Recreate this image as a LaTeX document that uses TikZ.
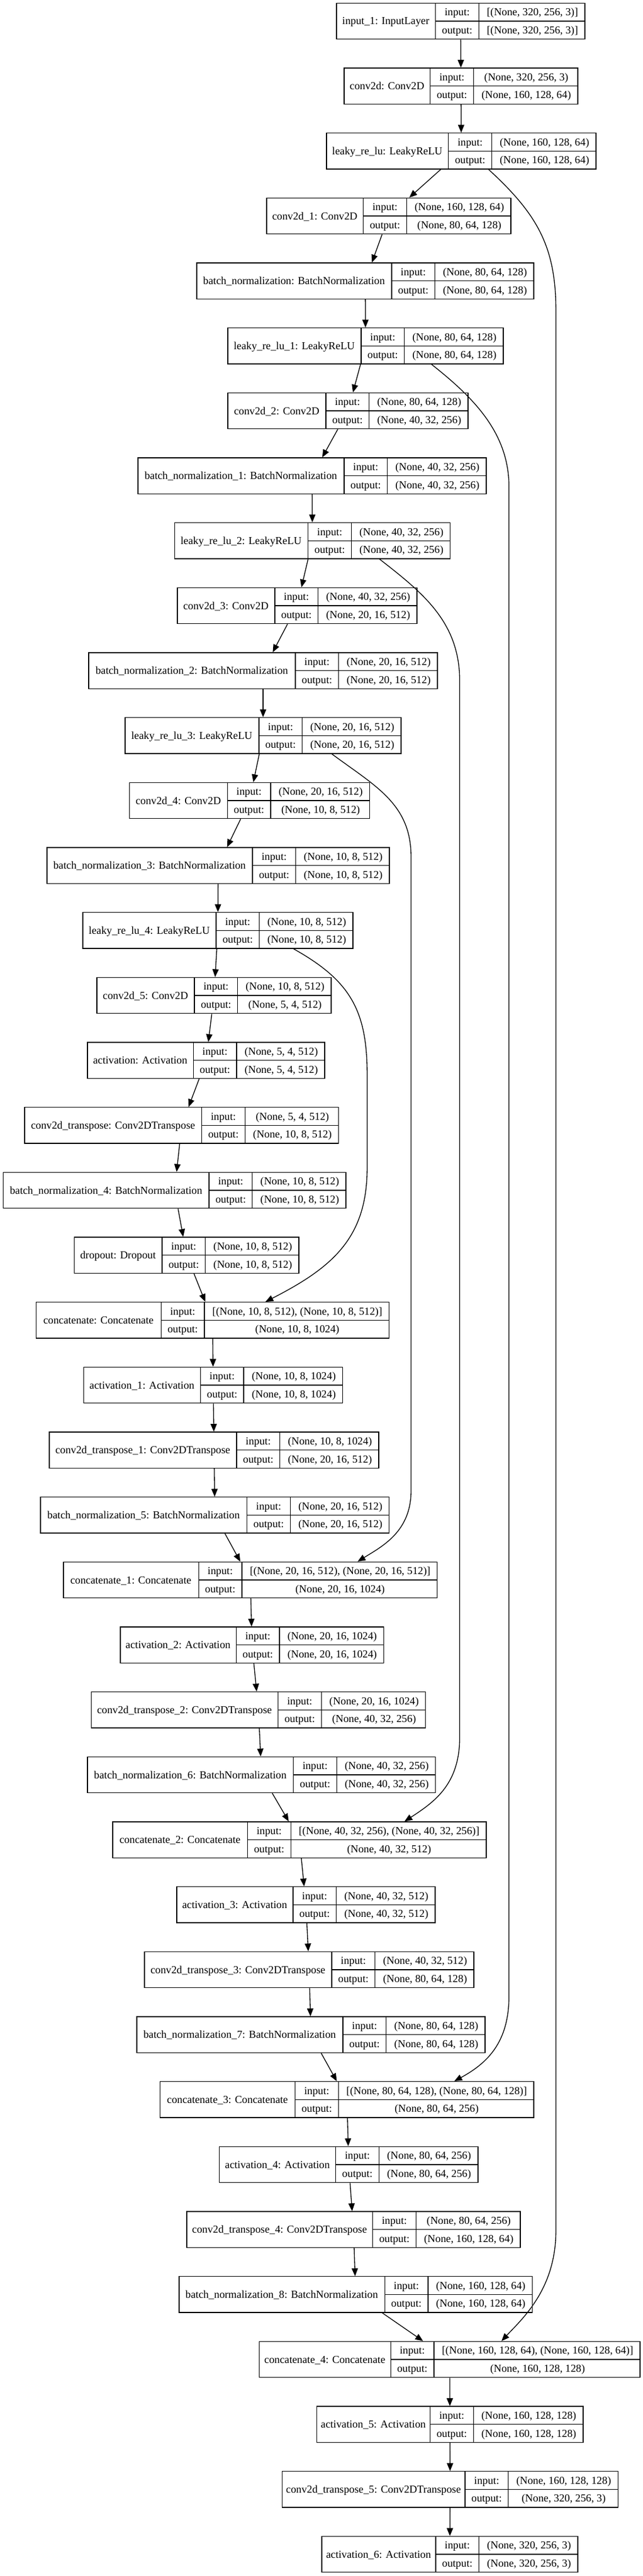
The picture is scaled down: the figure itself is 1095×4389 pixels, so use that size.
\documentclass[tikz,border=0pt]{standalone}
\usepackage{fontspec}
\setmainfont{Liberation Serif}
\usetikzlibrary{arrows.meta,calc}
\newlength\lwA \newlength\lwB \newlength\shapew \newlength\labw \newlength\totw
\newcommand\lfont{\fontsize{13.7pt}{16pt}\selectfont}
\tikzset{
 lbox/.style={draw, line width=1pt, minimum height=46pt, inner sep=0pt, fill=white},
 cellline/.style={line width=1pt},
 ltxt/.style={anchor=base, inner sep=0pt, font=\lfont},
 edge/.style={line width=1pt, -{Triangle[length=10pt,width=8pt]}},
}
% #1 name, #2 centre x (px), #3 row, #4 width (px), #5 label, #6 input, #7 output
\newcommand{\layer}[7]{%
  \pgfinterruptpicture
    \sbox0{\lfont #6}\global\lwA=\wd0
    \sbox0{\lfont #7}\global\lwB=\wd0
  \endpgfinterruptpicture
  \ifdim\lwB>\lwA \global\lwA=\lwB\fi
  \global\shapew=\dimexpr\lwA+18.5pt\relax
  \pgfmathsetlength\totw{#4*0.75pt}%
  \global\labw=\dimexpr\totw-\shapew-55.25pt\relax
  \node[lbox, minimum width=\totw] (#1) at (#2,{36+110.667*#3}) {};
  \node[ltxt] (#1-l) at ([xshift=0.5\labw, yshift=-4.5pt]#1.west) {#5};
  \draw[cellline] ([xshift=\labw]#1.north west) -- ([xshift=\labw]#1.south west);
  \draw[cellline] ([xshift=\labw+55.25pt]#1.north west) -- ([xshift=\labw+55.25pt]#1.south west);
  \draw[cellline] ([xshift=\labw]#1.west) -- (#1.east);
  \node[ltxt] (#1-i) at ([xshift=\labw+27.625pt, yshift=7pt]#1.west) {input:};
  \node[ltxt] (#1-o) at ([xshift=\labw+27.625pt, yshift=-16pt]#1.west) {output:};
  \node[ltxt] (#1-si) at ([xshift=-0.5\shapew, yshift=7pt]#1.east) {#6};
  \node[ltxt] (#1-so) at ([xshift=-0.5\shapew, yshift=-16pt]#1.east) {#7};
}
\begin{document}
\begin{tikzpicture}[x=0.75pt,y=-0.75pt]
\fill[white] (0,0) rectangle (1095,4389);
\useasboundingbox (0,0) rectangle (1095,4389);

\layer{input1}{784.5}{0}{423}{input\_1: InputLayer}{[(None, 320, 256, 3)]}{[(None, 320, 256, 3)]}
\layer{conv2d}{785}{1}{398}{conv2d: Conv2D}{(None, 320, 256, 3)}{(None, 160, 128, 64)}
\layer{lrelu}{785.5}{2}{459}{leaky\_re\_lu: LeakyReLU}{(None, 160, 128, 64)}{(None, 160, 128, 64)}
\layer{conv2d1}{662}{3}{416}{conv2d\_1: Conv2D}{(None, 160, 128, 64)}{(None, 80, 64, 128)}
\layer{bn}{622}{4}{574}{batch\_normalization: BatchNormalization}{(None, 80, 64, 128)}{(None, 80, 64, 128)}
\layer{lrelu1}{622.5}{5}{469}{leaky\_re\_lu\_1: LeakyReLU}{(None, 80, 64, 128)}{(None, 80, 64, 128)}
\layer{conv2d2}{592.5}{6}{409}{conv2d\_2: Conv2D}{(None, 80, 64, 128)}{(None, 40, 32, 256)}
\layer{bn1}{531.5}{7}{593}{batch\_normalization\_1: BatchNormalization}{(None, 40, 32, 256)}{(None, 40, 32, 256)}
\layer{lrelu2}{532}{8}{469.5}{leaky\_re\_lu\_2: LeakyReLU}{(None, 40, 32, 256)}{(None, 40, 32, 256)}
\layer{conv2d3}{506}{9}{408}{conv2d\_3: Conv2D}{(None, 40, 32, 256)}{(None, 20, 16, 512)}
\layer{bn2}{448}{10}{594}{batch\_normalization\_2: BatchNormalization}{(None, 20, 16, 512)}{(None, 20, 16, 512)}
\layer{lrelu3}{448}{11}{470}{leaky\_re\_lu\_3: LeakyReLU}{(None, 20, 16, 512)}{(None, 20, 16, 512)}
\layer{conv2d4}{425}{12}{408.5}{conv2d\_4: Conv2D}{(None, 20, 16, 512)}{(None, 10, 8, 512)}
\layer{bn3}{371.5}{13}{583}{batch\_normalization\_3: BatchNormalization}{(None, 10, 8, 512)}{(None, 10, 8, 512)}
\layer{lrelu4}{371}{14}{460}{leaky\_re\_lu\_4: LeakyReLU}{(None, 10, 8, 512)}{(None, 10, 8, 512)}
\layer{conv2d5}{364.5}{15}{399}{conv2d\_5: Conv2D}{(None, 10, 8, 512)}{(None, 5, 4, 512)}
\layer{act}{351}{16}{404}{activation: Activation}{(None, 5, 4, 512)}{(None, 5, 4, 512)}
\layer{convt}{309.3}{17}{534.5}{conv2d\_transpose: Conv2DTranspose}{(None, 5, 4, 512)}{(None, 10, 8, 512)}
\layer{bn4}{297.4}{18}{583.3}{batch\_normalization\_4: BatchNormalization}{(None, 10, 8, 512)}{(None, 10, 8, 512)}
\layer{drop}{317.8}{19}{382.5}{dropout: Dropout}{(None, 10, 8, 512)}{(None, 10, 8, 512)}
\layer{cat}{362}{20}{601}{concatenate: Concatenate}{[(None, 10, 8, 512), (None, 10, 8, 512)]}{(None, 10, 8, 1024)}
\layer{act1}{363.1}{21}{440.8}{activation\_1: Activation}{(None, 10, 8, 1024)}{(None, 10, 8, 1024)}
\layer{convt1}{364.5}{22}{561}{conv2d\_transpose\_1: Conv2DTranspose}{(None, 10, 8, 1024)}{(None, 20, 16, 512)}
\layer{bn5}{365.9}{23}{593.7}{batch\_normalization\_5: BatchNormalization}{(None, 20, 16, 512)}{(None, 20, 16, 512)}
\layer{cat1}{426.3}{24}{636.6}{concatenate\_1: Concatenate}{[(None, 20, 16, 512), (None, 20, 16, 512)]}{(None, 20, 16, 1024)}
\layer{act2}{429.2}{25}{448.5}{activation\_2: Activation}{(None, 20, 16, 1024)}{(None, 20, 16, 1024)}
\layer{convt2}{440.1}{26}{569.4}{conv2d\_transpose\_2: Conv2DTranspose}{(None, 20, 16, 1024)}{(None, 40, 32, 256)}
\layer{bn6}{445.4}{27}{592.8}{batch\_normalization\_6: BatchNormalization}{(None, 40, 32, 256)}{(None, 40, 32, 256)}
\layer{cat2}{510}{28}{636}{concatenate\_2: Concatenate}{[(None, 40, 32, 256), (None, 40, 32, 256)]}{(None, 40, 32, 512)}
\layer{act3}{521}{29}{440}{activation\_3: Activation}{(None, 40, 32, 512)}{(None, 40, 32, 512)}
\layer{convt3}{526.5}{30}{561}{conv2d\_transpose\_3: Conv2DTranspose}{(None, 40, 32, 512)}{(None, 80, 64, 128)}
\layer{bn7}{529.5}{31}{593}{batch\_normalization\_7: BatchNormalization}{(None, 80, 64, 128)}{(None, 80, 64, 128)}
\layer{cat3}{590.9}{32}{636.3}{concatenate\_3: Concatenate}{[(None, 80, 64, 128), (None, 80, 64, 128)]}{(None, 80, 64, 256)}
\layer{act4}{593.8}{33}{440.1}{activation\_4: Activation}{(None, 80, 64, 256)}{(None, 80, 64, 256)}
\layer{convt4}{602}{34}{568}{conv2d\_transpose\_4: Conv2DTranspose}{(None, 80, 64, 256)}{(None, 160, 128, 64)}
\layer{bn8}{605.7}{35}{601.4}{batch\_normalization\_8: BatchNormalization}{(None, 160, 128, 64)}{(None, 160, 128, 64)}
\layer{cat4}{765.8}{36}{648.4}{concatenate\_4: Concatenate}{[(None, 160, 128, 64), (None, 160, 128, 64)]}{(None, 160, 128, 128)}
\layer{act5}{766.2}{37}{453.4}{activation\_5: Activation}{(None, 160, 128, 128)}{(None, 160, 128, 128)}
\layer{convt5}{766.5}{38}{571.5}{conv2d\_transpose\_5: Conv2DTranspose}{(None, 160, 128, 128)}{(None, 320, 256, 3)}
\layer{act6}{766}{39}{436}{activation\_6: Activation}{(None, 320, 256, 3)}{(None, 320, 256, 3)}

% chain edges
\foreach \a/\b in {input1/conv2d, conv2d/lrelu, lrelu/conv2d1, conv2d1/bn, bn/lrelu1, lrelu1/conv2d2,
  conv2d2/bn1, bn1/lrelu2, lrelu2/conv2d3, conv2d3/bn2, bn2/lrelu3, lrelu3/conv2d4, conv2d4/bn3,
  bn3/lrelu4, lrelu4/conv2d5, conv2d5/act, act/convt, convt/bn4, bn4/drop, drop/cat, cat/act1,
  act1/convt1, convt1/bn5, bn5/cat1, cat1/act2, act2/convt2, convt2/bn6, bn6/cat2, cat2/act3,
  act3/convt3, convt3/bn7, bn7/cat3, cat3/act4, act4/convt4, convt4/bn8, bn8/cat4, cat4/act5,
  act5/convt5, convt5/act6}
  \draw[edge] (\a) -- (\b);

% skip connections
\draw[edge] ($(lrelu.south)+(46.5,0)$) .. controls (915,365) and (946.7,420) .. (946.7,530)
  -- (946.7,3800) .. controls (946.7,3900) and (890,3950) .. ($(cat4.north)+(88.2,0)$);
\draw[edge] ($(lrelu1.south)+(112.2,0)$) .. controls (810,680) and (866.8,740) .. (866.8,830)
  -- (866.8,3400) .. controls (866.8,3480) and (830,3515) .. ($(cat3.north)+(182.7,0)$);
\draw[edge] ($(lrelu2.south)+(114.4,0)$) .. controls (720,1010) and (782.8,1060) .. (782.8,1160)
  -- (782.8,2960) .. controls (782.8,3040) and (740,3070) .. ($(cat2.north)+(178.8,0)$);
\draw[edge] ($(lrelu3.south)+(117.2,0)$) .. controls (640,1340) and (700,1370) .. (700,1460)
  -- (700,2540) .. controls (700,2610) and (650,2635) .. ($(cat1.north)+(182.7,0)$);
\draw[edge] ($(lrelu4.south)+(129,0)$) .. controls (595,1670) and (625.2,1720) .. (625.2,1830)
  -- (625.2,1990) .. controls (625.2,2110) and (565,2160) .. ($(cat.north)+(90,0)$);
\end{tikzpicture}
\end{document}
